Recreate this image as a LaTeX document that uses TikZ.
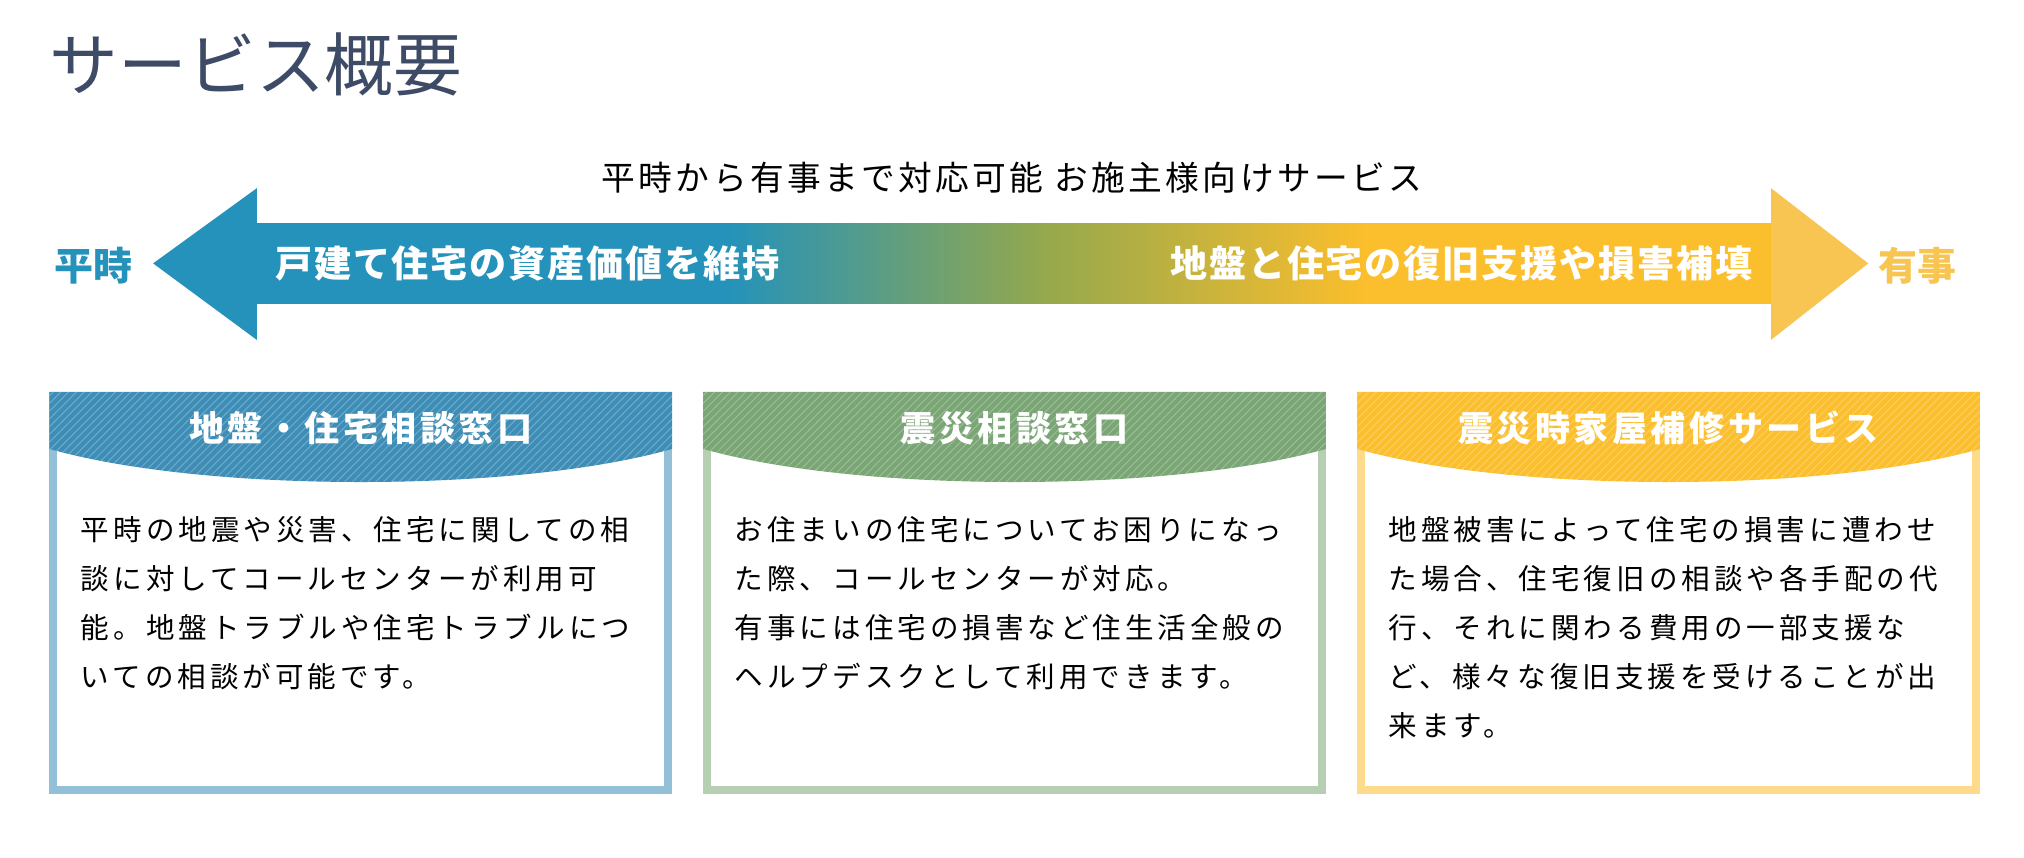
\documentclass[tikz,border=0pt]{standalone}
\usepackage{fontspec}
\usepackage{tikz}
\usetikzlibrary{patterns}
\newfontfamily\jp{Noto Sans CJK JP}
\newfontfamily\jpw[LetterSpace=14]{Noto Sans CJK JP}
\newfontfamily\jph[LetterSpace=10]{Noto Sans CJK JP}
\newfontfamily\jpa[LetterSpace=5]{Noto Sans CJK JP}
\definecolor{hblue}{HTML}{2492BA}
\definecolor{holive}{HTML}{93A84E}
\definecolor{hyellow}{HTML}{FBBE2C}
\definecolor{hlyellow}{HTML}{F8C552}
\definecolor{bblue}{HTML}{3D8DB6}
\definecolor{bgreen}{HTML}{7AA574}
\definecolor{titlecol}{HTML}{3E4B66}
\tikzset{
  bodytext/.style={anchor=north west,inner sep=0pt,align=left,font=\jpw\fontsize{11}{18.8}\selectfont},
  headtext/.style={text=white,font=\jph\bfseries\fontsize{13.5}{15}\selectfont},
  arrowtext/.style={text=white,font=\jpa\bfseries\fontsize{14.3}{16}\selectfont},
}
\begin{document}
\begin{tikzpicture}[x=0.5pt,y=0.5pt,yscale=-1]
        \useasboundingbox (0,0) rectangle (1560,661);

        % Title
        \draw (38,50) node [anchor=west,inner sep=0pt,text=titlecol,font=\jp\fontsize{26.5}{28}\selectfont] (title) {サービス概要};
        % Text Node
        \draw (780,137) node [inner sep=0pt,font=\jph\fontsize{13}{14}\selectfont] (sub) {平時から有事まで対応可能 お施主様向けサービス};

        %Shape: Arrow shaft
        \fill[hblue] (196,172) rectangle (562,234);
        \fill[left color=hblue,right color=holive] (560,172) rectangle (802,234);
        \fill[left color=holive,right color=hyellow] (800,172) rectangle (1052,234);
        \fill[hyellow] (1050,172) rectangle (1367,234);
        %Shape: Arrow heads
        \fill[hblue] (118,203) -- (198,145) -- (198,262) -- cycle;
        \fill[hlyellow] (1440,203) -- (1365,145) -- (1365,262) -- cycle;

        % Text Node
        \draw (205,203) node [anchor=west,arrowtext] (peace) {戸建て住宅の資産価値を維持};
        % Text Node
        \draw (1358,203) node [anchor=east,arrowtext] (emerg) {地盤と住宅の復旧支援や損害補填};
        % Text Node
        \draw (72,205) node [text=hblue,font=\jp\bfseries\fontsize{15}{16}\selectfont] (lheiji) {平時};
        \draw (1478,205) node [text=hlyellow,font=\jp\bfseries\fontsize{15}{16}\selectfont] (lyuji) {有事};

        %Boxes
        \foreach \bx/\col/\nm in {38/bblue/a, 542/bgreen/b, 1046/hyellow/c}{
          \draw[\col!55,line width=3pt] (\bx+3,305) rectangle (\bx+477,609);
          \fill[\col] (\bx,302) -- (\bx+480,302) -- (\bx+480,346) .. controls (\bx+360,380) and (\bx+120,380) .. (\bx,346) -- cycle;
          \fill[pattern=north east lines,pattern color=white,opacity=0.25] (\bx,302) -- (\bx+480,302) -- (\bx+480,346) .. controls (\bx+360,380) and (\bx+120,380) .. (\bx,346) -- cycle;
          \coordinate (box\nm) at (\bx,302);
        }

        % Header Text
        \draw (278,330) node [headtext] (ha) {地盤・住宅相談窓口};
        \draw (782,330) node [headtext] (hb) {震災相談窓口};
        \draw (1286,330) node [headtext] (hc) {震災時家屋補修サービス};

        % Body Text
        \draw (62,398) node [bodytext] (ta) {平時の地震や災害、住宅に関しての相\\談に対してコールセンターが利用可\\能。地盤トラブルや住宅トラブルにつ\\いての相談が可能です。};
        \draw (566,398) node [bodytext] (tb) {お住まいの住宅についてお困りになっ\\た際、コールセンターが対応。\\有事には住宅の損害など住生活全般の\\ヘルプデスクとして利用できます。};
        \draw (1070,398) node [bodytext] (tc) {地盤被害によって住宅の損害に遭わせ\\た場合、住宅復旧の相談や各手配の代\\行、それに関わる費用の一部支援な\\ど、様々な復旧支援を受けることが出\\来ます。};

    \end{tikzpicture}
\end{document}
